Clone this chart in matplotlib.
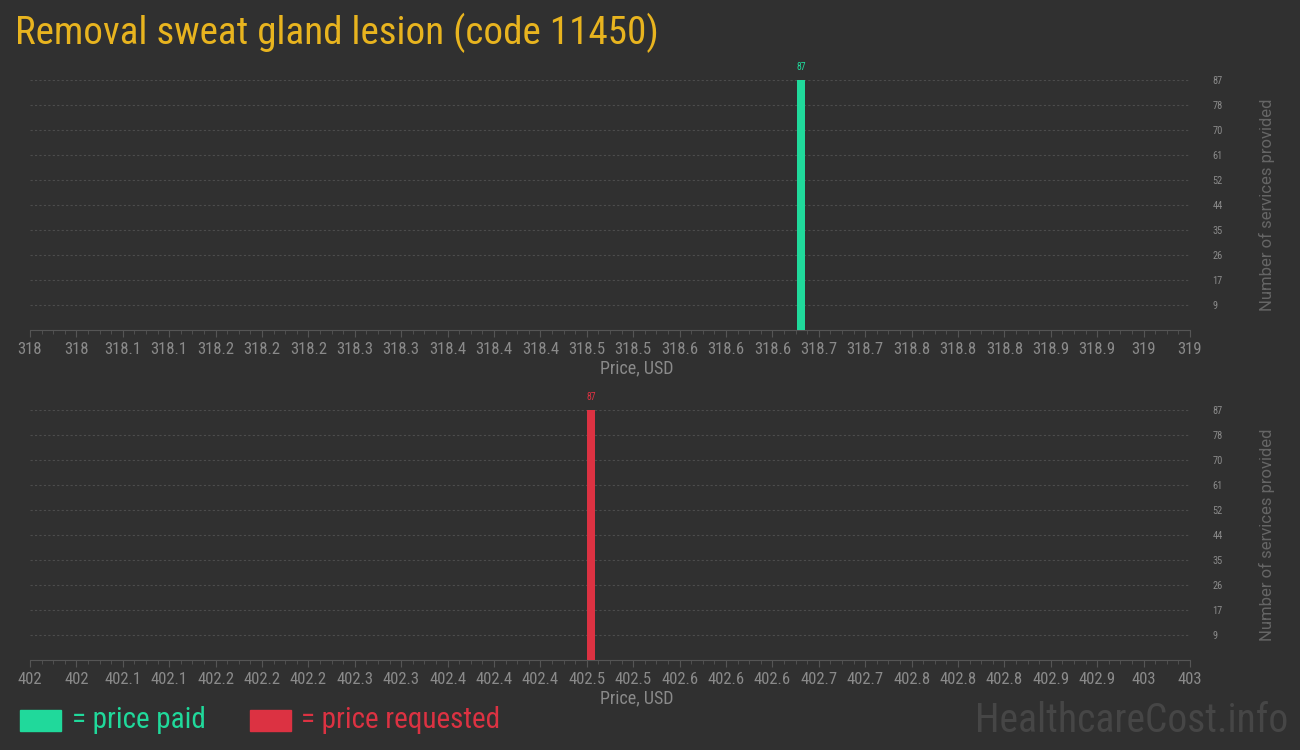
import matplotlib
matplotlib.use("Agg")
import matplotlib.pyplot as plt
from matplotlib.patches import Rectangle
from matplotlib.ticker import FuncFormatter, MultipleLocator
from matplotlib import font_manager

# chart values
title = "Removal sweat gland lesion (code 11450)"
paid_prices = [318.665]
paid_counts = [87]
requested_prices = [402.484]
requested_counts = [87]
paid_range = (318, 319)
requested_range = (402, 403)

bg = "#303030"
green = "#20d99b"
red = "#dc3242"
tick_col = "#8a8a8a"

names = set(f.name for f in font_manager.fontManager.ttflist)
cond = [n for n in ["Roboto Condensed", "Liberation Sans Narrow", "DejaVu Sans Condensed"] if n in names]
cond_family = cond + ["Roboto", "DejaVu Sans"]
plt.rcParams["font.family"] = cond_family

fig = plt.figure(figsize=(13, 7.5), dpi=100, facecolor=bg)


def fmt(v, pos):
    return f"{v:.1f}".rstrip("0").rstrip(".")


def panel(rect, prices, counts, xr, color):
    ax = fig.add_axes(rect, facecolor=bg)
    top = max(counts)
    ax.bar(prices, counts, width=0.0069, color=color, zorder=3)
    for p, c in zip(prices, counts):
        ax.text(p, c + top * 0.03, str(c), color=color, fontsize=7,
                ha="center", va="bottom")
    ax.set_xlim(*xr)
    ax.set_ylim(0, top)
    ax.xaxis.set_major_locator(MultipleLocator(0.04))
    ax.xaxis.set_minor_locator(MultipleLocator(0.01))
    ax.xaxis.set_major_formatter(FuncFormatter(fmt))
    yt = [top * i / 10 for i in range(1, 11)]
    ax.set_yticks(yt)
    ax.set_yticklabels([str(int(v + 0.5)) for v in yt])
    ax.yaxis.tick_right()
    ax.yaxis.set_label_position("right")
    ax.grid(axis="y", color="#4c4c4c", linestyle=(0, (2, 2)), linewidth=0.8, zorder=0)
    for s in ["top", "left", "right"]:
        ax.spines[s].set_visible(False)
    ax.spines["bottom"].set_color("#555555")
    ax.tick_params(axis="x", which="major", length=5, color="#555555",
                   labelcolor=tick_col, labelsize=12, pad=4)
    ax.tick_params(axis="x", which="minor", length=3, color="#555555")
    ax.tick_params(axis="y", length=0, labelcolor=tick_col, labelsize=7.5, pad=16)
    ax.set_xlabel("Price, USD", color=tick_col, fontsize=13, labelpad=2)
    ax.xaxis.set_label_coords(0.523, -0.117)
    ax.set_ylabel("Number of services provided", color="#666666", fontsize=12,
                  family=["Roboto", "DejaVu Sans"], labelpad=26)
    return ax


panel([30 / 1300, 0.56, 1160 / 1300, 250 / 750], paid_prices, paid_counts, paid_range, green)
panel([30 / 1300, 0.12, 1160 / 1300, 250 / 750], requested_prices, requested_counts, requested_range, red)

fig.text(15 / 1300, 1 - 33 / 750, title, color="#e8b41f", fontsize=28.2, va="center", ha="left")

fig.patches.append(Rectangle((20 / 1300, 1 - 731 / 750), 41 / 1300, 21 / 750,
                             transform=fig.transFigure, color=green))
fig.text(72 / 1300, 1 - 720 / 750, "= price paid", color=green, fontsize=21, va="center")
fig.patches.append(Rectangle((250 / 1300, 1 - 731 / 750), 41 / 1300, 21 / 750,
                             transform=fig.transFigure, color=red))
fig.text(301 / 1300, 1 - 720 / 750, "= price requested", color=red, fontsize=21, va="center")
fig.text(1288 / 1300, 1 - 720 / 750, "HealthcareCost.info", color="#464646", fontsize=28.5,
         va="center", ha="right")

fig.savefig("out.png", dpi=100, facecolor=bg)
